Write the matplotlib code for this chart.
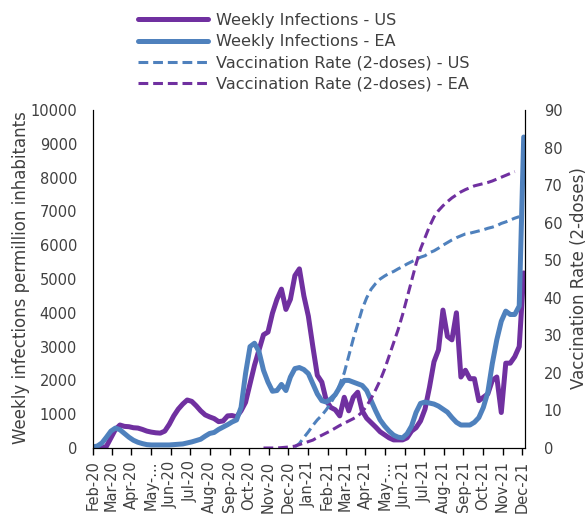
import numpy as np
import pandas as pd
import matplotlib
matplotlib.use("Agg")
import matplotlib.pyplot as plt

nan = np.nan
dates = pd.date_range("2020-02-01", periods=97, freq="7D")

infections_us = [
    0, 0, 0, 50, 300, 550, 680, 640, 630, 600,
    590, 550, 500, 470, 450, 440, 500, 700, 950, 1150,
    1300, 1420, 1380, 1250, 1100, 980, 920, 870, 780, 800,
    950, 960, 920, 1100, 1350, 1900, 2450, 2900, 3350, 3430,
    3990, 4400, 4700, 4100, 4400, 5100, 5300, 4500, 3900, 3000,
    2150, 1950, 1400, 1200, 1130, 950, 1500, 1100, 1500, 1650,
    1100, 880, 750, 620, 480, 390, 300, 240, 240, 240,
    300, 500, 600, 800, 1150, 1800, 2550, 2900, 4080, 3300,
    3200, 4000, 2100, 2300, 2050, 2050, 1400, 1500, 1600, 2000,
    2100, 1050, 2510, 2510, 2700, 3000, 5180]

infections_ea = [
    30, 60, 150, 320, 500, 590, 540, 430, 320, 230,
    170, 130, 100, 90, 90, 90, 90, 90, 100, 110,
    120, 150, 180, 220, 260, 350, 430, 460, 550, 620,
    690, 770, 830, 1200, 2200, 3000, 3100, 2850, 2300, 1950,
    1680, 1700, 1880, 1700, 2100, 2350, 2380, 2320, 2200, 1900,
    1600, 1400, 1360, 1450, 1580, 1800, 2000, 2000, 1950, 1900,
    1850, 1700, 1400, 1100, 830, 650, 500, 380, 320, 300,
    420, 650, 1050, 1320, 1360, 1330, 1300, 1240, 1150, 1060,
    900, 760, 680, 680, 680, 760, 900, 1200, 1650, 2500,
    3200, 3750, 4050, 3950, 3950, 4200, 9200]

vacc_us = [nan] * 45 + [
    0.3, 1.2, 2.8, 4.3, 6, 7.5, 8.7, 10.2, 12, 14,
    17, 20, 24.5, 29, 33, 37, 40, 42.3, 43.8, 45,
    45.8, 46.5, 47, 47.7, 48.3, 49, 49.6, 50.2, 50.8, 51.2,
    52, 52.5, 53.2, 54, 54.7, 55.4, 56, 56.5, 57, 57.2,
    57.5, 57.8, 58.1, 58.5, 58.8, 59.2, 59.8, 60.2, 60.7, 61.2,
    61.6, nan]

vacc_ea = [nan] * 38 + [
    0, 0, 0, 0, 0.1, 0.2, 0.3, 0.5, 0.9, 1.3,
    1.7, 2.1, 2.8, 3.4, 4, 4.6, 5.3, 6, 6.6, 7.2,
    7.8, 8.5, 9.6, 11.2, 13.2, 15.5, 18, 21, 24.5, 28,
    31.5, 35.5, 40, 44.5, 49, 53, 56, 59, 61.5, 63.2,
    64.5, 65.6, 66.6, 67.4, 68.2, 68.8, 69.3, 69.8, 70.1, 70.4,
    70.7, 71.1, 71.6, 72.1, 72.6, 73.1, 73.6, nan, nan]

tick_dates = pd.date_range("2020-02-01", "2021-12-01", freq="MS")
tick_labels = ["Feb-20", "Mar-20", "Apr-20", "May-...", "Jun-20", "Jul-20", "Aug-20",
               "Sep-20", "Oct-20", "Nov-20", "Dec-20", "Jan-21", "Feb-21", "Mar-21",
               "Apr-21", "May-...", "Jun-21", "Jul-21", "Aug-21", "Sep-21", "Oct-21",
               "Nov-21", "Dec-21"]

labels = ["Weekly Infections - US", "Weekly Infections - EA",
          "Vaccination Rate (2-doses) - US", "Vaccination Rate (2-doses) - EA"]

PURPLE = "#7030A0"
BLUE = "#4F81BD"

plt.rcParams["font.family"] = ["DejaVu Sans"]
fs_tick = 10.5
fs_label = 12
fs_leg = 11.6
text_color = "#404040"

W, H = 587, 515
fig = plt.figure(figsize=(W / 100, H / 100), dpi=100)
ax = fig.add_axes([93 / W, 1 - 448 / H, (525 - 93) / W, (448 - 110) / H])
ax2 = ax.twinx()

l1, = ax.plot(dates, infections_us, color=PURPLE, lw=3.6, solid_capstyle="round")
l2, = ax.plot(dates, infections_ea, color=BLUE, lw=3.6, solid_capstyle="round")
l3, = ax2.plot(dates, vacc_us, color=BLUE, lw=2.2, dashes=(3.2, 1.6))
l4, = ax2.plot(dates, vacc_ea, color=PURPLE, lw=2.2, dashes=(3.2, 1.6))

ax.set_ylim(0, 10000)
ax.set_yticks(np.arange(0, 10001, 1000))
ax2.set_ylim(0, 90)
ax2.set_yticks(np.arange(0, 91, 10))
ax.set_xlim(pd.Timestamp("2020-02-01"), pd.Timestamp("2021-12-06"))
ax.set_xticks(tick_dates)
ax.set_xticklabels(tick_labels, rotation=90, fontsize=fs_tick, color=text_color)

for a in (ax, ax2):
    a.spines["top"].set_visible(False)
ax.tick_params(axis="y", length=0, labelsize=fs_tick, labelcolor=text_color, pad=11.5)
ax2.tick_params(axis="y", length=0, labelsize=fs_tick, labelcolor=text_color, pad=13.5)
ax.tick_params(axis="x", direction="out", length=5, width=1, pad=4)
ax.spines["left"].set_color("black")
ax2.spines["right"].set_color("black")

fig.text(21 / W, 1 - 278 / H, "Weekly infections permillion inhabitants",
         rotation=90, ha="center", va="center", fontsize=fs_label, color=text_color)
fig.text(579 / W, 1 - 278 / H, "Vaccination Rate (2-doses)",
         rotation=90, ha="center", va="center", fontsize=fs_label, color=text_color)

fig.legend([l1, l2, l3, l4], labels, loc="upper left",
           bbox_to_anchor=(138 / W, 1 - 13 / H), frameon=False, fontsize=fs_leg,
           handlelength=4.35, handletextpad=0.5, labelspacing=0.39, borderpad=0,
           borderaxespad=0, labelcolor=text_color)

fig.savefig("out.png", dpi=100)
